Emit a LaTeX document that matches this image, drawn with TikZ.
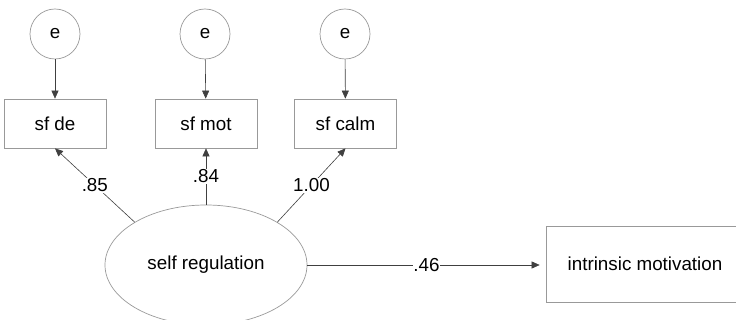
\documentclass[tikz,border=0pt]{standalone}
\usepackage{fontspec}
\setmainfont{Liberation Sans}
\usetikzlibrary{arrows.meta,shapes.geometric}
\begin{document}
\begin{tikzpicture}[x=1pt,y=-1pt,
  font=\fontsize{18.8}{21}\selectfont,
  errc/.style={circle,draw=gray!80,line width=0.7pt,minimum size=50pt,inner sep=0pt},
  obsbox/.style={rectangle,draw=gray!80,line width=0.7pt,minimum width=102pt,minimum height=49pt,inner sep=0pt},
  latent/.style={ellipse,draw=gray!80,line width=0.7pt,minimum width=202pt,minimum height=120pt,inner sep=0pt},
  conn/.style={draw=black!75,line width=0.6pt,-{Triangle[length=8pt,width=7pt]}},
  lab/.style={fill=white,inner sep=1pt}]
\useasboundingbox (0,0) rectangle (736,320);
\clip (0,0) rectangle (736,320);
\node[errc] (e1) at (55,34) {e};
\node[errc] (e2) at (205,34) {e};
\node[errc] (e3) at (345,34) {e};
\node[obsbox] (de) at (55,123.5) {sf de};
\node[obsbox] (mot) at (206,123.5) {sf mot};
\node[obsbox] (calm) at (345.5,123.5) {sf calm};
\node[latent] (sr) at (206,265) {self regulation};
\node[rectangle,draw=gray!80,line width=0.7pt,minimum width=198pt,minimum height=76pt,inner sep=0pt] (im) at (645,264) {intrinsic motivation};
\draw[conn] (e1) -- (de);
\draw[conn] (e2) -- (mot);
\draw[conn] (e3) -- (calm);
\draw[conn] (sr.149.5) -- node[lab] {.85} (de.south);
\draw[conn] (sr.north) -- node[lab] {.84} (mot.south);
\draw[conn] (sr.31) -- node[lab] {1.00} (calm.south);
\draw[conn,shorten >=6pt] (sr.east) -- node[lab,inner sep=0pt] {.46} (im.west |- sr.east);
\end{tikzpicture}
\end{document}
